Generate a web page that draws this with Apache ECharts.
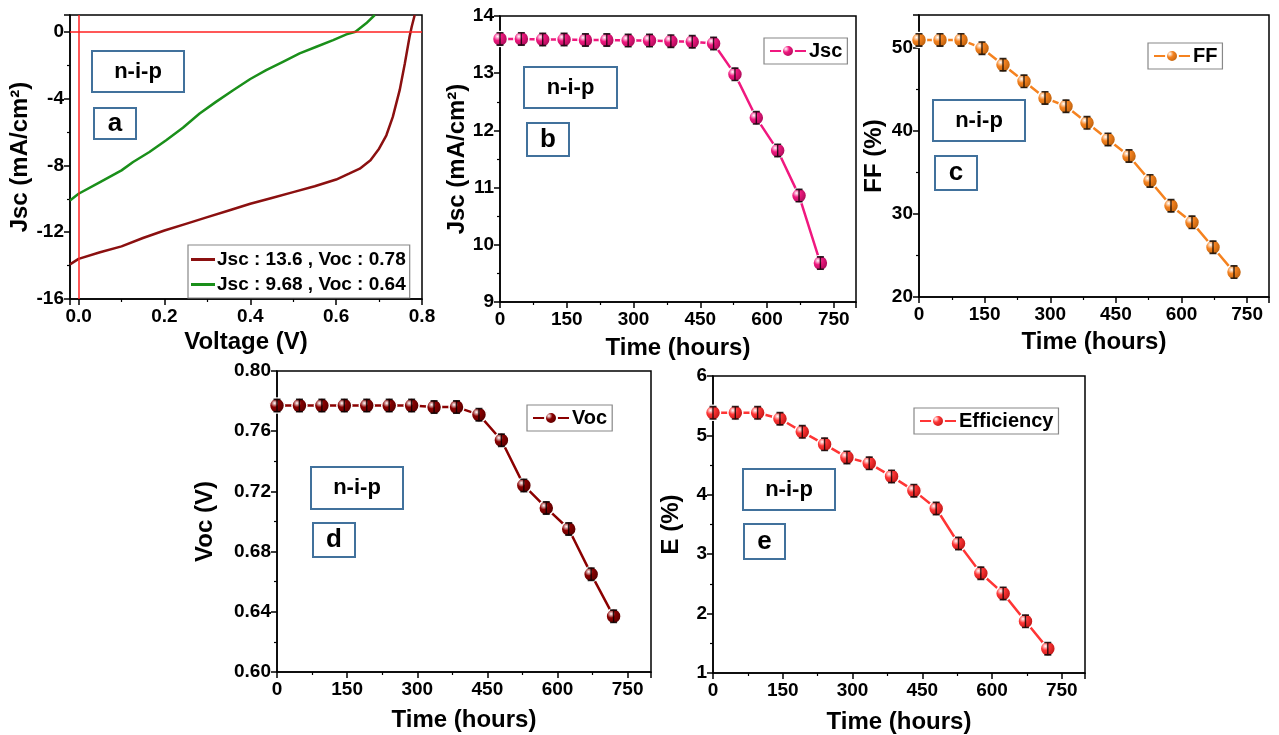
<!DOCTYPE html>
<html>
<head>
<meta charset="utf-8">
<script src="https://cdn.jsdelivr.net/npm/echarts@6/dist/echarts.min.js"></script>
<style>
  html, body { margin: 0; padding: 0; background: #fff; }
  #main { width: 1279px; height: 735px; }
</style>
</head>
<body>
<div id="main"></div>
<script>
// panel a: J-V curves
const jvVoltageA = [-0.02, 0, 0.05, 0.1, 0.15, 0.2, 0.25, 0.3, 0.35, 0.4, 0.45, 0.5, 0.55, 0.6, 0.63, 0.655, 0.68, 0.70, 0.717, 0.732, 0.748, 0.76, 0.771, 0.776, 0.783];
const jvCurrentA = [-13.93, -13.6, -13.2, -12.85, -12.35, -11.9, -11.5, -11.1, -10.7, -10.3, -9.95, -9.6, -9.25, -8.85, -8.5, -8.2, -7.7, -7.0, -6.2, -5.1, -3.5, -1.9, -0.3, 0.3, 1.0];
const jvVoltageB = [-0.02, 0, 0.05, 0.1, 0.127, 0.165, 0.204, 0.243, 0.282, 0.32, 0.36, 0.4, 0.437, 0.476, 0.515, 0.554, 0.593, 0.624, 0.645, 0.67, 0.69];
const jvCurrentB = [-10.1, -9.7, -9.0, -8.3, -7.8, -7.2, -6.5, -5.75, -4.9, -4.2, -3.5, -2.83, -2.3, -1.8, -1.3, -0.9, -0.5, -0.16, 0, 0.5, 1.0];
const jvNames = ['Jsc : 13.6 , Voc : 0.78', 'Jsc : 9.68 , Voc : 0.64'];

// panels b-e: stability over time
const hours = [0, 48, 96, 144, 192, 240, 288, 336, 384, 432, 480, 528, 576, 624, 672, 720];
const jscValues = [13.6, 13.6, 13.59, 13.59, 13.58, 13.58, 13.57, 13.57, 13.56, 13.55, 13.52, 12.98, 12.22, 11.65, 10.86, 9.68];
const ffValues = [51, 51, 51, 50, 48, 46, 44, 43, 41, 39, 37, 34, 31, 29, 26, 23];
const vocValues = [0.777, 0.777, 0.777, 0.777, 0.777, 0.777, 0.777, 0.776, 0.776, 0.771, 0.754, 0.724, 0.709, 0.695, 0.665, 0.637];
const effValues = [5.38, 5.38, 5.38, 5.28, 5.06, 4.85, 4.63, 4.53, 4.31, 4.07, 3.77, 3.18, 2.68, 2.34, 1.87, 1.41];

const FONT = 'Liberation Sans';
const TICK_SIZE = 19;
const NAME_SIZE = 24;
const chart = echarts.init(document.getElementById('main'));

function pairs(xs, ys) {
    return xs.map((x, i) => [x, ys[i]]);
}

function sphere(base, dark) {
    return new echarts.graphic.RadialGradient(0.35, 0.35, 0.7, [
        { offset: 0, color: '#ffffff' },
        { offset: 0.35, color: base },
        { offset: 1, color: dark }
    ]);
}

function tickLabel(extra) {
    return Object.assign({ fontFamily: FONT, fontWeight: 'bold', fontSize: TICK_SIZE, color: '#000', margin: 6, showMaxLabel: false }, extra);
}

// axis helpers, Origin style: ticks outside, minor ticks, bold labels
function xAxisFor(grid, opts) {
    return Object.assign({
        gridIndex: grid,
        type: 'value',
        nameLocation: 'middle',
        nameTextStyle: { fontFamily: FONT, fontWeight: 'bold', fontSize: NAME_SIZE, color: '#000' },
        axisLine: { onZero: false, lineStyle: { color: '#000', width: 1.5 } },
        axisTick: { show: true, length: 6, lineStyle: { color: '#000', width: 1.5 } },
        minorTick: { show: true, splitNumber: 2, length: 3, lineStyle: { color: '#000', width: 1.2 } },
        axisLabel: tickLabel({ margin: 8 }),
        splitLine: { show: false }
    }, opts);
}

function yAxisFor(grid, opts) {
    return Object.assign({
        gridIndex: grid,
        type: 'value',
        nameLocation: 'middle',
        nameRotate: 90,
        nameTextStyle: { fontFamily: FONT, fontWeight: 'bold', fontSize: NAME_SIZE, color: '#000' },
        axisLine: { onZero: false, lineStyle: { color: '#000', width: 1.5 } },
        axisTick: { show: true, length: 6, lineStyle: { color: '#000', width: 1.5 } },
        minorTick: { show: true, splitNumber: 2, length: 3, lineStyle: { color: '#000', width: 1.2 } },
        axisLabel: tickLabel({}),
        splitLine: { show: false }
    }, opts);
}

function gridBox(left, top, right, bottom) {
    return { left, top, right, bottom, show: true, borderColor: '#000', borderWidth: 1.5, backgroundColor: 'transparent' };
}

// black I-beam error bar symbol
const errBar = 'path://M0,0h6v1.2h-6z M2.4,0h1.2v10h-1.2z M0,8.8h6v1.2h-6z';

function timeSeries(name, values, grid, base, dark) {
    return [{
        name: name,
        type: 'line',
        xAxisIndex: grid, yAxisIndex: grid,
        data: pairs(hours, values),
        symbol: 'circle',
        symbolSize: 15,
        lineStyle: { color: base, width: 2.5 },
        itemStyle: { color: sphere(base, dark), borderColor: '#fff', borderWidth: 1.5 },
        emphasis: { disabled: true },
        z: 3
    }, {
        name: name + ' err',
        type: 'scatter',
        xAxisIndex: grid, yAxisIndex: grid,
        data: pairs(hours, values),
        symbol: errBar,
        symbolSize: [7, 14],
        itemStyle: { color: '#000' },
        silent: true,
        z: 4
    }];
}

function legendFor(name, left, top) {
    return {
        data: [name],
        left, top,
        orient: 'horizontal',
        itemWidth: 36, itemHeight: 15,
        itemGap: 4,
        padding: [3, 5],
        borderColor: '#888', borderWidth: 1.2,
        backgroundColor: '#fff',
        selectedMode: false,
        textStyle: { fontFamily: FONT, fontWeight: 'bold', fontSize: 20, color: '#000', padding: [0, 0, 0, -2] }
    };
}

function labelBox(x, y, w, h, text, size) {
    return {
        type: 'group',
        left: x, top: y,
        children: [{
            type: 'rect',
            shape: { x: 0, y: 0, width: w, height: h },
            style: { fill: '#fff', stroke: '#41719c', lineWidth: 2 }
        }, {
            type: 'text',
            x: w / 2, y: h / 2,
            style: { text: text, fontFamily: FONT, fontWeight: 'bold', fontSize: size, fill: '#000', align: 'center', verticalAlign: 'middle' }
        }]
    };
}

const option = {
    animation: false,
    backgroundColor: '#fff',
    grid: [
        gridBox(70, 15, 857, 436),
        gridBox(500, 16, 423, 433),
        gridBox(919, 15, 10, 438),
        gridBox(277, 371, 628, 63),
        gridBox(713, 376, 194, 62)
    ],
    xAxis: [
        xAxisFor(0, { min: -0.02, max: 0.8, splitNumber: 4, name: 'Voltage (V)', nameGap: 31,
            axisLabel: tickLabel({ margin: 8, showMinLabel: false, showMaxLabel: true, formatter: v => v.toFixed(1) }) }),
        xAxisFor(1, { min: 0, max: 800, interval: 150, name: 'Time (hours)', nameGap: 34 }),
        xAxisFor(2, { min: 0, max: 800, interval: 150, name: 'Time (hours)', nameGap: 33 }),
        xAxisFor(3, { min: 0, max: 800, interval: 150, name: 'Time (hours)', nameGap: 36 }),
        xAxisFor(4, { min: 0, max: 800, interval: 150, name: 'Time (hours)', nameGap: 37 })
    ],
    yAxis: [
        yAxisFor(0, { min: -16, max: 1, interval: 4, name: 'Jsc (mA/cm²)', nameGap: 37 }),
        yAxisFor(1, { min: 9, max: 14, interval: 1, name: 'Jsc (mA/cm²)', nameGap: 31,
            axisLabel: tickLabel({ showMaxLabel: true }) }),
        yAxisFor(2, { min: 20, max: 54, interval: 10, name: 'FF (%)', nameGap: 33 }),
        yAxisFor(3, { min: 0.6, max: 0.8, interval: 0.04, name: 'Voc (V)', nameGap: 60,
            axisLabel: tickLabel({ showMaxLabel: true, formatter: v => v.toFixed(2) }) }),
        yAxisFor(4, { min: 1, max: 6, interval: 1, name: 'E (%)', nameGap: 30,
            axisLabel: tickLabel({ showMaxLabel: true }) })
    ],
    legend: [
        {
            data: jvNames,
            left: 188, top: 245,
            orient: 'vertical',
            icon: 'rect',
            itemWidth: 24, itemHeight: 3,
            itemGap: 6,
            padding: [5, 4, 4, 3],
            borderColor: '#888', borderWidth: 1.2,
            backgroundColor: '#fff',
            selectedMode: false,
            textStyle: { fontFamily: FONT, fontWeight: 'bold', fontSize: 19, color: '#000', padding: [0, 0, 0, -3] }
        },
        legendFor('Jsc', 764, 38),
        legendFor('FF', 1148, 43),
        legendFor('Voc', 527, 405),
        legendFor('Efficiency', 914, 408)
    ],
    graphic: [
        labelBox(91, 50, 92, 41, 'n-i-p', 22),
        labelBox(93, 107, 42, 31, 'a', 26),
        labelBox(523, 66, 93, 41, 'n-i-p', 22),
        labelBox(526, 122, 42, 33, 'b', 26),
        labelBox(932, 99, 92, 41, 'n-i-p', 22),
        labelBox(934, 155, 42, 34, 'c', 26),
        labelBox(310, 466, 92, 42, 'n-i-p', 22),
        labelBox(312, 522, 42, 34, 'd', 26),
        labelBox(742, 468, 92, 41, 'n-i-p', 22),
        labelBox(743, 523, 41, 35, 'e', 26)
    ],
    series: [
        {
            name: jvNames[0],
            type: 'line',
            xAxisIndex: 0, yAxisIndex: 0,
            data: pairs(jvVoltageA, jvCurrentA),
            showSymbol: false, symbol: 'none',
            lineStyle: { color: '#8b1010', width: 2.5 },
            itemStyle: { color: '#8b1010' },
            markLine: {
                silent: true, symbol: 'none', label: { show: false },
                lineStyle: { color: '#ff2020', width: 1.5, type: 'solid' },
                data: [{ xAxis: 0 }, { yAxis: 0 }]
            },
            z: 3
        },
        {
            name: jvNames[1],
            type: 'line',
            xAxisIndex: 0, yAxisIndex: 0,
            data: pairs(jvVoltageB, jvCurrentB),
            showSymbol: false, symbol: 'none',
            lineStyle: { color: '#1a8f1a', width: 2.5 },
            itemStyle: { color: '#1a8f1a' },
            z: 3
        },
        ...timeSeries('Jsc', jscValues, 1, '#f0187f', '#9a0a50'),
        ...timeSeries('FF', ffValues, 2, '#f5821f', '#b05a0a'),
        ...timeSeries('Voc', vocValues, 3, '#8b0000', '#4a0000'),
        ...timeSeries('Efficiency', effValues, 4, '#ff3535', '#b01010')
    ]
};

chart.setOption(option);
</script>
</body>
</html>
